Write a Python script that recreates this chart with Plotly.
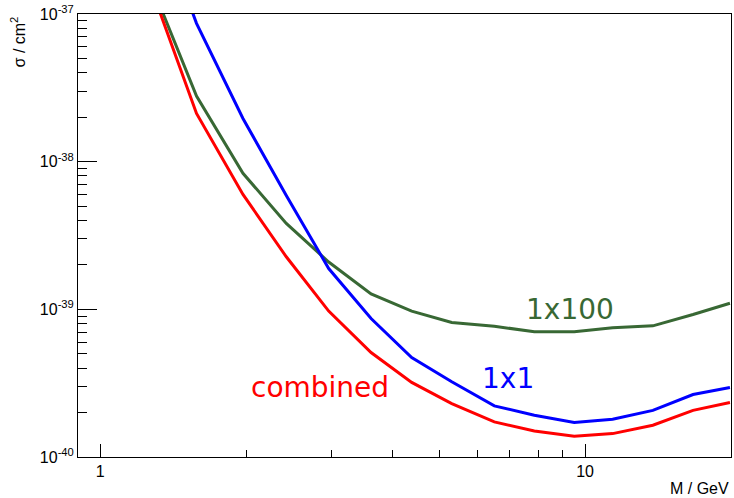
import plotly.graph_objects as go
import math

# Data (mass in GeV, cross-section in cm^2)
mass = [1.25, 1.58, 1.97, 2.42, 2.96, 3.62, 4.39, 5.31, 6.50, 7.86, 9.50, 11.4, 13.8, 16.7, 19.9]
sigma_combined = [1.78e-37, 2.12e-38, 6.0e-39, 2.27e-39, 9.73e-40, 5.1e-40, 3.2e-40, 2.30e-40,
                  1.73e-40, 1.50e-40, 1.38e-40, 1.44e-40, 1.64e-40, 2.07e-40, 2.34e-40]
sigma_1x1 = [6.9e-37, 8.65e-38, 1.96e-38, 5.91e-39, 1.89e-39, 8.67e-40, 4.72e-40, 3.23e-40,
             2.22e-40, 1.92e-40, 1.71e-40, 1.80e-40, 2.07e-40, 2.65e-40, 2.96e-40]
sigma_1x100 = [1.86e-37, 2.78e-38, 8.34e-39, 3.82e-39, 2.09e-39, 1.27e-39, 9.72e-40, 8.15e-40,
               7.69e-40, 7.04e-40, 7.04e-40, 7.5e-40, 7.73e-40, 9.22e-40, 1.10e-39]

x_major = [1, 10]
x_major_text = ["1", "10"]
x_minor = [2, 3, 4, 5, 6, 7, 8, 9, 20]
y_major = [1e-40, 1e-39, 1e-38, 1e-37]
y_major_text = ["10<sup>-40</sup>", "10<sup>-39</sup>", "10<sup>-38</sup>", "10<sup>-37</sup>"]
y_minor = [m * 10.0 ** e for e in (-40, -39, -38) for m in range(2, 10)]

RED = "#ff0000"
BLUE = "#0000ff"
GREEN = "#386834"

fig = go.Figure()
fig.add_trace(go.Scatter(x=mass, y=sigma_1x100, mode="lines", line=dict(color=GREEN, width=3), name="1x100"))
fig.add_trace(go.Scatter(x=mass, y=sigma_1x1, mode="lines", line=dict(color=BLUE, width=3), name="1x1"))
fig.add_trace(go.Scatter(x=mass, y=sigma_combined, mode="lines", line=dict(color=RED, width=3), name="combined"))

lab_font = "DejaVu Sans"
fig.add_annotation(x=math.log10(2.84), y=-39.527, text="combined", showarrow=False,
                   font=dict(family=lab_font, size=28, color=RED), xanchor="center", yanchor="middle")
fig.add_annotation(x=math.log10(9.33), y=-39.0, text="1x100", showarrow=False,
                   font=dict(family=lab_font, size=28, color=GREEN), xanchor="center", yanchor="middle")
fig.add_annotation(x=math.log10(6.92), y=-39.47, text="1x1", showarrow=False,
                   font=dict(family=lab_font, size=28, color=BLUE), xanchor="center", yanchor="middle")

axis_font = dict(family="Liberation Sans, Arial, sans-serif", size=16, color="black")

fig.add_annotation(xref="paper", yref="paper", x=1.0, y=-0.048, text="M / GeV", showarrow=False,
                   xanchor="right", yanchor="top", font=axis_font)
fig.add_annotation(xref="paper", yref="paper", x=-0.092, y=1.0, text="σ / cm<sup>2</sup>", showarrow=False,
                   textangle=-90, xanchor="center", yanchor="top", font=axis_font)

fig.update_xaxes(type="log", range=[math.log10(0.9), math.log10(20)],
                 tickvals=x_major, ticktext=x_major_text, ticks="inside", ticklen=13,
                 tickcolor="black", tickwidth=1,
                 minor=dict(tickvals=x_minor, ticks="inside", ticklen=7, tickcolor="black", tickwidth=1),
                 showline=True, linecolor="black", linewidth=1, mirror=True,
                 showgrid=False, zeroline=False, tickfont=axis_font)
fig.update_yaxes(type="log", range=[-40, -37],
                 tickvals=y_major, ticktext=y_major_text, ticks="inside", ticklen=19,
                 tickcolor="black", tickwidth=1,
                 minor=dict(tickvals=y_minor, ticks="inside", ticklen=9, tickcolor="black", tickwidth=1),
                 showline=True, linecolor="black", linewidth=1, mirror=True,
                 showgrid=False, zeroline=False, tickfont=axis_font)

fig.update_layout(width=734, height=498, margin=dict(l=78, r=3, t=14, b=41),
                  paper_bgcolor="white", plot_bgcolor="white", showlegend=False)

fig.write_html("out.html", config={"displayModeBar": False},
               post_script="document.body.style.margin='0px';")
